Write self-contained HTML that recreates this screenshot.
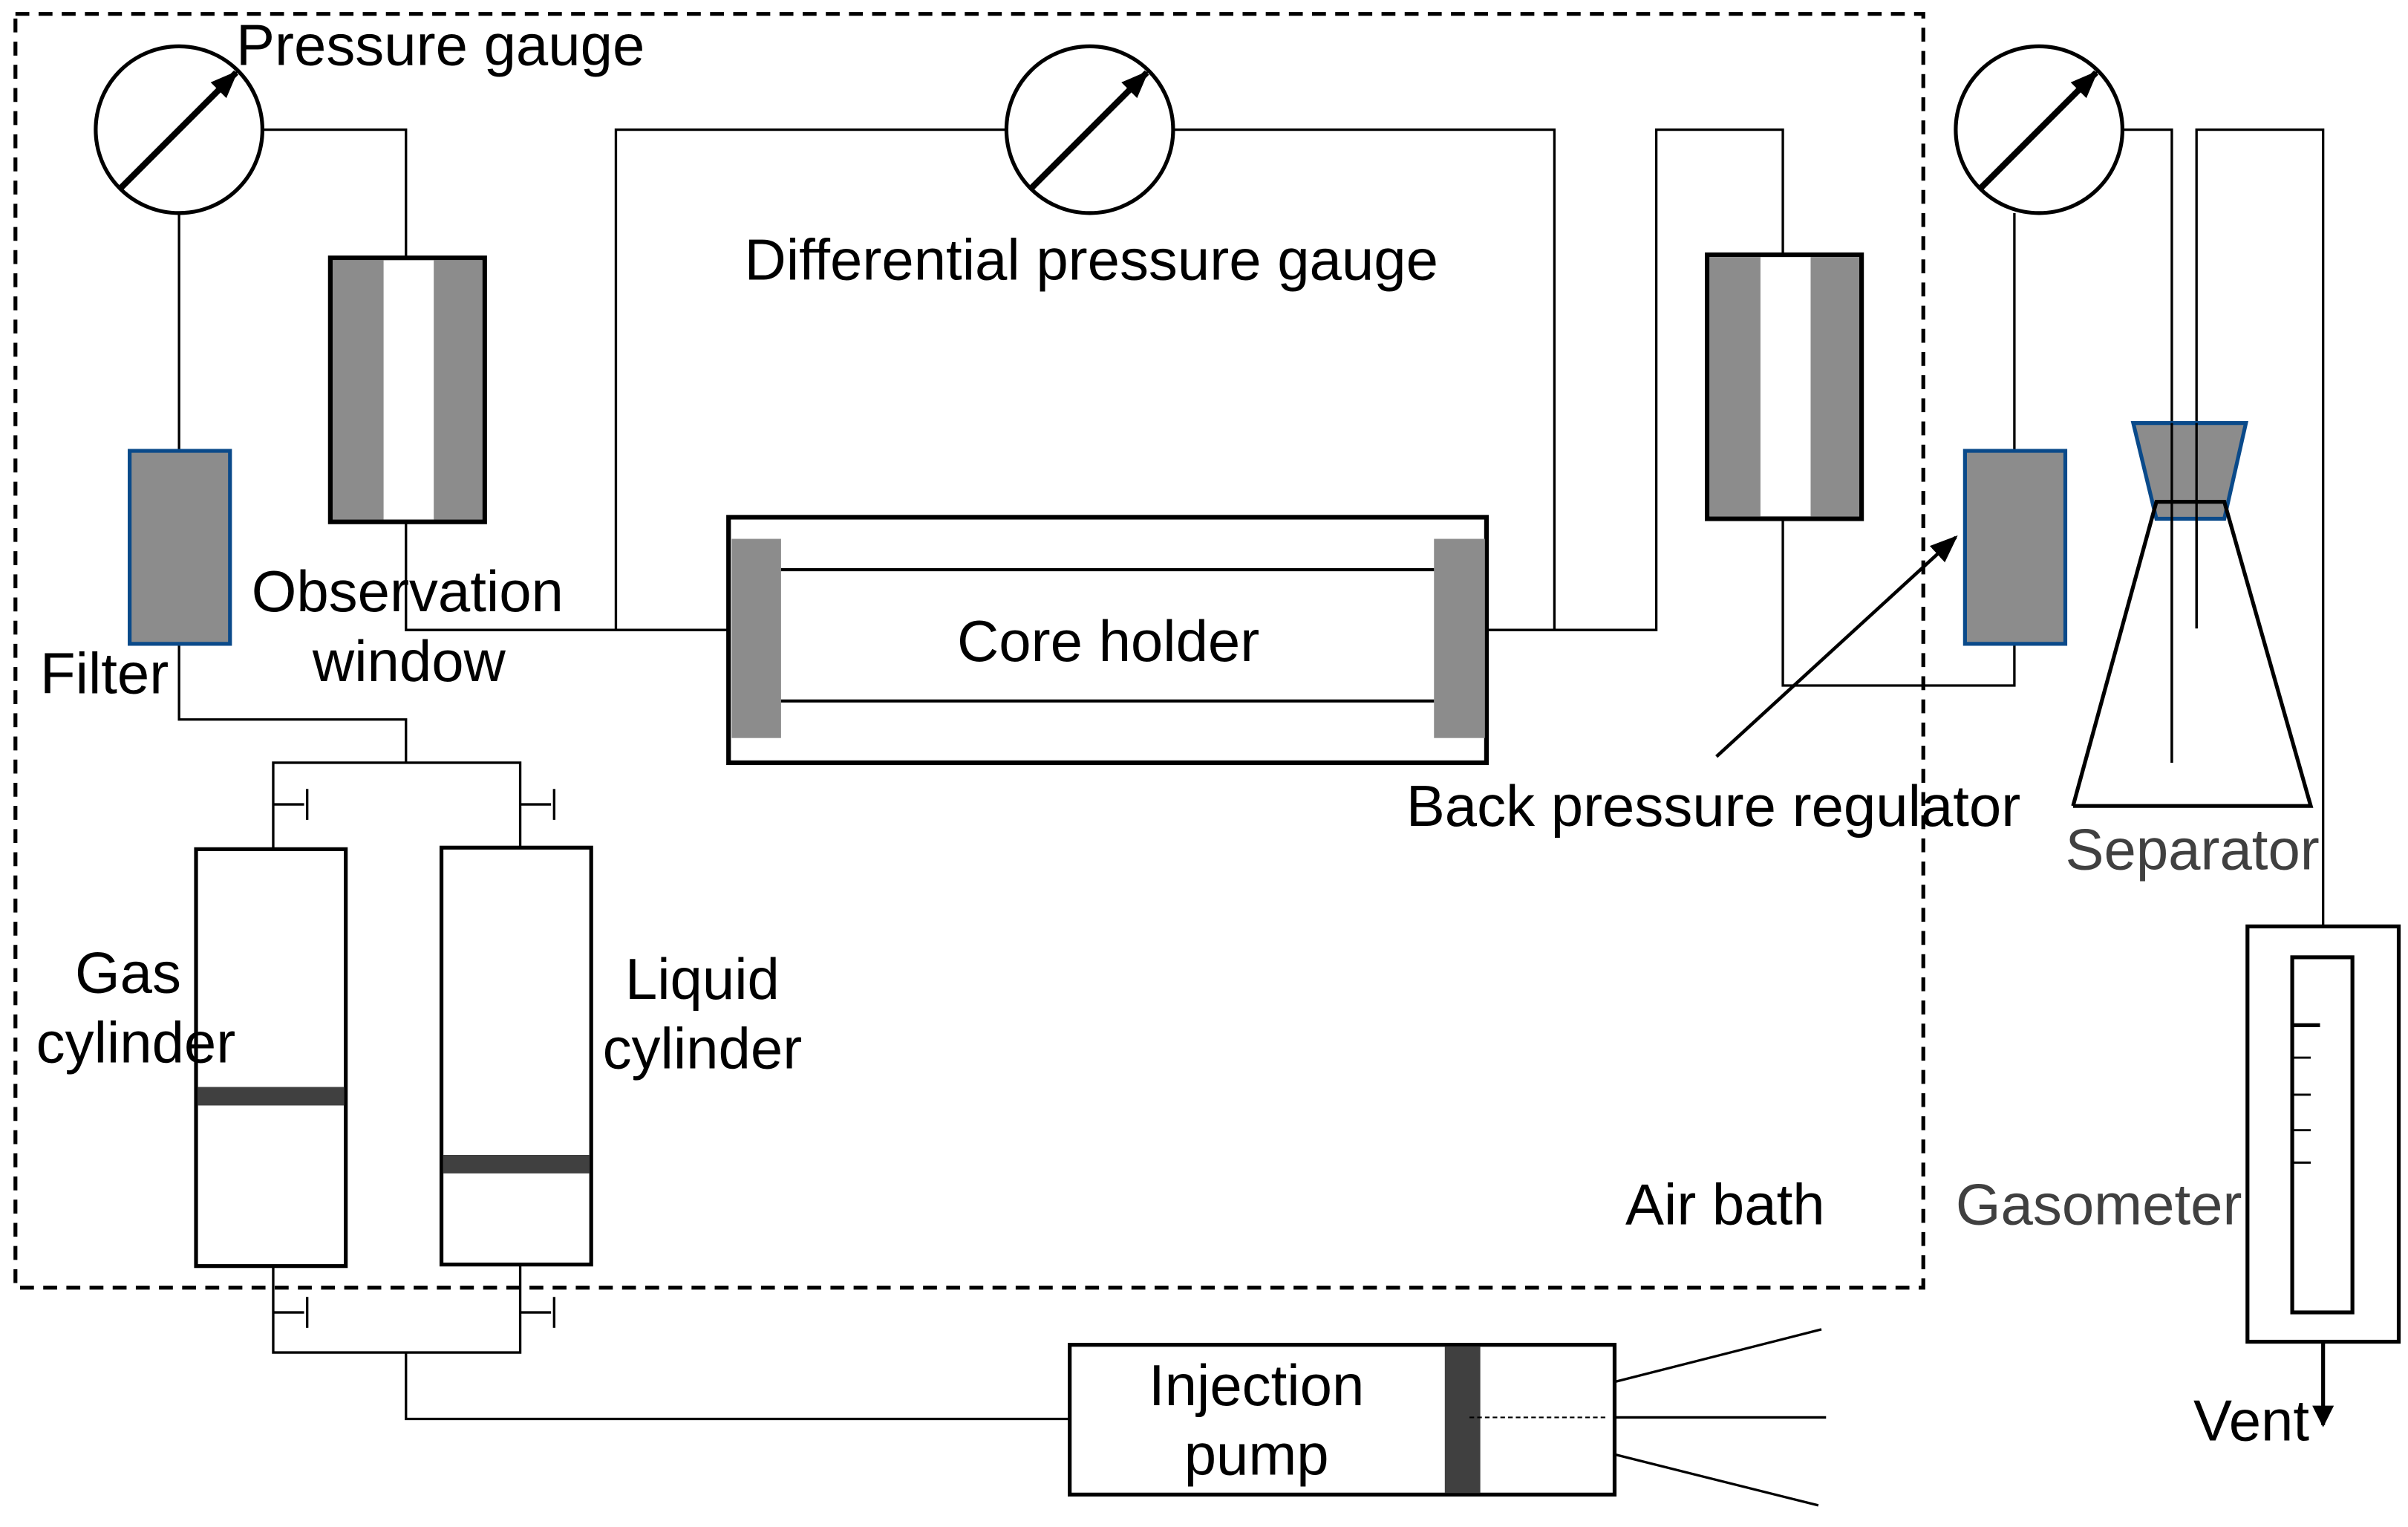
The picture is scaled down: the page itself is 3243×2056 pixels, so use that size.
<!DOCTYPE html>
<html><head><meta charset="utf-8"><style>html,body{margin:0;padding:0;background:#fff}svg{display:block}text{font-family:"Liberation Sans",Arial,sans-serif;font-size:37.5px;fill:#000}</style></head>
<body>
<svg width="3243" height="2056" viewBox="0 0 1560 989" preserveAspectRatio="none" xmlns="http://www.w3.org/2000/svg">
<defs>
<marker id="ah2" viewBox="0 0 10 10" refX="9" refY="5" markerWidth="18" markerHeight="18" orient="auto" markerUnits="userSpaceOnUse"><path d="M0,1 L10,5 L0,9 z" fill="#000"/></marker>
<marker id="ah3" viewBox="0 0 10 10" refX="9" refY="5" markerWidth="14" markerHeight="14" orient="auto" markerUnits="userSpaceOnUse"><path d="M0,0 L10,5 L0,10 z" fill="#000"/></marker>
</defs>
<rect x="10" y="9" width="1236" height="825" fill="none" stroke="#000" stroke-width="2.5" stroke-dasharray="9,6"/>
<g fill="none" stroke="#000" stroke-width="1.6">
<polyline points="170,84 263,84 263,167"/>
<polyline points="263,338 263,408 472,408"/>
<line x1="116" y1="138" x2="116" y2="292"/>
<polyline points="116,417 116,466 263,466 263,494"/>
<polyline points="177,550 177,494 337,494 337,549"/>
<line x1="177" y1="521" x2="197" y2="521"/><line x1="199" y1="511" x2="199" y2="531"/>
<line x1="337" y1="521" x2="357" y2="521"/><line x1="359" y1="511" x2="359" y2="531"/>
<polyline points="177,820 177,876 337,876 337,819"/>
<line x1="177" y1="850" x2="197" y2="850"/><line x1="199" y1="840" x2="199" y2="860"/>
<line x1="337" y1="850" x2="357" y2="850"/><line x1="359" y1="840" x2="359" y2="860"/>
<polyline points="263,876 263,919 693,919"/>
<line x1="1046" y1="895" x2="1180" y2="861"/>
<line x1="1046" y1="918" x2="1183" y2="918"/>
<line x1="1046" y1="942" x2="1178" y2="975"/>
<polyline points="652,84 399,84 399,408"/>
<polyline points="760,84 1007,84 1007,408"/>
<polyline points="963,408 1073,408 1073,84 1155,84 1155,165"/>
<polyline points="1155,336 1155,444 1305,444 1305,417"/>
<line x1="1305" y1="292" x2="1305" y2="138"/>
<polyline points="1375,84 1407,84 1407,494"/>
<polyline points="1423,407 1423,84 1505,84 1505,600"/>
</g>
<g fill="#fff" stroke="#000" stroke-width="2.5">
<circle cx="116" cy="84" r="54"/><circle cx="706" cy="84" r="54"/><circle cx="1321" cy="84" r="54"/>
</g>
<g stroke="#000" stroke-width="4" marker-end="url(#ah2)">
<line x1="78" y1="122" x2="153" y2="47"/>
<line x1="668" y1="122" x2="743" y2="47"/>
<line x1="1283" y1="122" x2="1358" y2="47"/>
</g>
<rect x="214" y="167" width="100" height="171" fill="#fff" stroke="#000" stroke-width="3"/>
<rect x="215.5" y="168.5" width="33" height="168" fill="#8c8c8c"/><rect x="281" y="168.5" width="31.5" height="168" fill="#8c8c8c"/>
<rect x="1106" y="165" width="100" height="171" fill="#fff" stroke="#000" stroke-width="3"/>
<rect x="1107.5" y="166.5" width="33" height="168" fill="#8c8c8c"/><rect x="1173" y="166.5" width="31.5" height="168" fill="#8c8c8c"/>
<rect x="84" y="292" width="65" height="125" fill="#8c8c8c" stroke="#0a4a8a" stroke-width="2.5"/>
<rect x="1273" y="292" width="65" height="125" fill="#8c8c8c" stroke="#0a4a8a" stroke-width="2.5"/>
<rect x="472" y="335" width="491" height="159" fill="#fff" stroke="#000" stroke-width="3"/>
<rect x="474" y="349" width="32" height="129" fill="#8c8c8c"/><rect x="929" y="349" width="33" height="129" fill="#8c8c8c"/>
<line x1="506" y1="369" x2="929" y2="369" stroke="#000" stroke-width="2"/>
<line x1="506" y1="454" x2="929" y2="454" stroke="#000" stroke-width="2"/>
<rect x="127" y="550" width="97" height="270" fill="#fff" stroke="#000" stroke-width="2.5"/>
<rect x="128" y="704" width="95" height="12" fill="#404040"/>
<rect x="286" y="549" width="97" height="270" fill="#fff" stroke="#000" stroke-width="2.5"/>
<rect x="287" y="748" width="95" height="12" fill="#404040"/>
<rect x="693" y="871" width="353" height="97" fill="#fff" stroke="#000" stroke-width="2.5"/>
<rect x="936" y="872" width="23" height="95" fill="#404040"/>
<line x1="952" y1="918" x2="1040" y2="918" stroke="#000" stroke-width="1" stroke-dasharray="3,2"/>
<polygon points="1382,274 1455,274 1441,336 1397,336" fill="#8c8c8c" stroke="#0a4a8a" stroke-width="2.5"/>
<polyline points="1343,522 1397,325 1441,325 1497,522 1343,522" fill="none" stroke="#000" stroke-width="2.5"/>
<line x1="1407" y1="274" x2="1407" y2="494" stroke="#000" stroke-width="1.6"/>
<line x1="1423" y1="274" x2="1423" y2="407" stroke="#000" stroke-width="1.6"/>
<rect x="1456" y="600" width="98" height="269" fill="#fff" stroke="#000" stroke-width="2.5"/>
<rect x="1485" y="620" width="39" height="230" fill="#fff" stroke="#000" stroke-width="2.5"/>
<g stroke="#000"><line x1="1486" y1="664" x2="1503" y2="664" stroke-width="2.5"/>
<line x1="1486" y1="685" x2="1497" y2="685" stroke-width="1.4"/><line x1="1486" y1="709" x2="1497" y2="709" stroke-width="1.4"/>
<line x1="1486" y1="732" x2="1497" y2="732" stroke-width="1.4"/><line x1="1486" y1="753" x2="1497" y2="753" stroke-width="1.4"/></g>
<line x1="1505" y1="870" x2="1505" y2="923" stroke="#000" stroke-width="2.5" marker-end="url(#ah3)"/>
<line x1="1112" y1="490" x2="1267" y2="348" stroke="#000" stroke-width="2.2" marker-end="url(#ah2)"/>
<text x="153" y="42">Pressure gauge</text>
<text x="707" y="181" text-anchor="middle">Differential pressure gauge</text>
<text x="718" y="428" text-anchor="middle">Core holder</text>
<text x="264" y="396" text-anchor="middle">Observation</text>
<text x="265" y="441" text-anchor="middle">window</text>
<text x="26" y="449">Filter</text>
<text x="83" y="643" text-anchor="middle">Gas</text>
<text x="88" y="688" text-anchor="middle">cylinder</text>
<text x="455" y="647" text-anchor="middle">Liquid</text>
<text x="455" y="692" text-anchor="middle">cylinder</text>
<text x="814" y="910" text-anchor="middle">Injection</text>
<text x="814" y="955" text-anchor="middle">pump</text>
<text x="911" y="535">Back pressure regulator</text>
<text x="1053" y="793">Air bath</text>
<text x="1338" y="563" style="fill:#404040">Separator</text>
<text x="1267" y="793" style="fill:#404040">Gasometer</text>
<text x="1421" y="933">Vent</text>
</svg>
</body></html>
